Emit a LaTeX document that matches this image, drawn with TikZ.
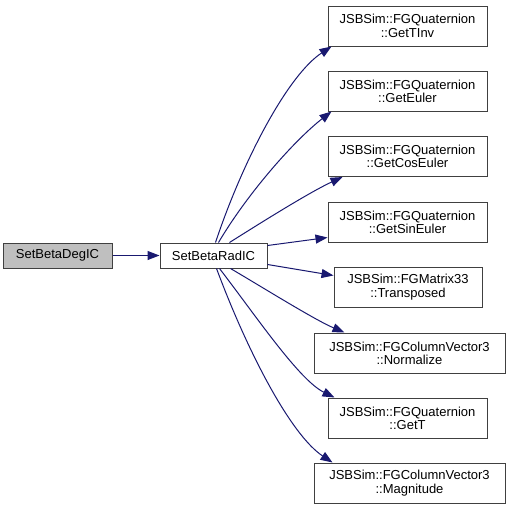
\documentclass[tikz,border=0pt]{standalone}
\usepackage{fontspec}
\setmainfont{Liberation Sans}
\usetikzlibrary{arrows.meta,calc}
\definecolor{edgeblue}{HTML}{191970}
\definecolor{boxline}{HTML}{404040}
\definecolor{boxgrey}{HTML}{BFBFBF}
\begin{document}
\begin{tikzpicture}[x=1pt,y=-1pt,
  fn/.style={draw=boxline,line width=1pt,fill=white,inner sep=0pt,align=center,
    font=\fontsize{13}{13.3}\selectfont},
  edge/.style={draw=edgeblue,line width=1pt,-{Triangle[length=12pt,width=9pt]}}]
\useasboundingbox (0,0) rectangle (507,509);
\node[fn,fill=boxgrey,minimum width=109pt,minimum height=25pt] (deg) at (57.5,255.5) {SetBetaDegIC};
\node[fn,minimum width=107pt,minimum height=25pt] (rad) at (213.5,255.5) {SetBetaRadIC};
\node[fn,minimum width=159pt,minimum height=40pt] (tinv) at (407.5,26) {JSBSim::FGQuaternion\\::GetTInv};
\node[fn,minimum width=159pt,minimum height=40pt] (euler) at (407.5,91) {JSBSim::FGQuaternion\\::GetEuler};
\node[fn,minimum width=159pt,minimum height=40pt] (cos) at (407.5,156.5) {JSBSim::FGQuaternion\\::GetCosEuler};
\node[fn,minimum width=159pt,minimum height=40pt] (sin) at (407.5,222) {JSBSim::FGQuaternion\\::GetSinEuler};
\node[fn,minimum width=148pt,minimum height=40pt] (trans) at (408,287) {JSBSim::FGMatrix33\\::Transposed};
\node[fn,minimum width=191pt,minimum height=40pt] (norm) at (409.5,353) {JSBSim::FGColumnVector3\\::Normalize};
\node[fn,minimum width=159pt,minimum height=40pt] (gett) at (407.5,418) {JSBSim::FGQuaternion\\::GetT};
\node[fn,minimum width=191pt,minimum height=40pt] (mag) at (409.5,483) {JSBSim::FGColumnVector3\\::Magnitude};
\draw[edge] (deg.east) -- (rad.west);
\draw[edge] ($(rad.north west)+(56,0)$) .. controls (243,160) and (288,75) .. ($(tinv.south west)+(4,0)$);
\draw[edge] ($(rad.north west)+(59,0)$) .. controls (249,191) and (296,139) .. ($(euler.south west)+(4,0)$);
\draw[edge] ($(rad.north west)+(70,0)$) .. controls (262,222) and (310,192) .. ($(cos.south west)+(15,0)$);
\draw[edge] ($(rad.north east)+(0,3)$) -- ($(sin.south west)+(0,-5)$);
\draw[edge] ($(rad.south east)+(0,-4)$) -- ($(trans.north west)+(0,9)$);
\draw[edge] ($(rad.south west)+(71,0)$) .. controls (262,287) and (315,320) .. ($(norm.north west)+(31,0)$);
\draw[edge] ($(rad.south west)+(60,0)$) .. controls (256,316) and (299,380) .. ($(gett.north west)+(7,0)$);
\draw[edge] ($(rad.south west)+(57,0)$) .. controls (248,353) and (291,435) .. ($(mag.north west)+(19,0)$);
\end{tikzpicture}
\end{document}
